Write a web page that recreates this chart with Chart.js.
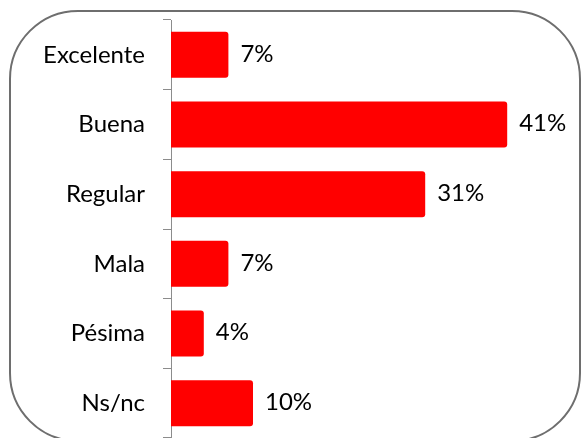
<!DOCTYPE html>
<html>
<head>
<meta charset="utf-8">
<script src="https://cdn.jsdelivr.net/npm/chart.js@4"></script>
<style>
  html, body { margin: 0; padding: 0; background: #fff; overflow: hidden; }
  #wrap { position: relative; width: 581px; height: 438px; }
  #frame { position: absolute; left: 9px; top: 10px; width: 568px; height: 428px; border: 2px solid #6e6e6e; border-radius: 69px; }
  #c { position: absolute; left: 0; top: 0; }
</style>
</head>
<body>
<div id="wrap">
  <div id="frame"></div>
  <canvas id="c" width="581" height="438"></canvas>
</div>
<script>
const categories = ['Excelente', 'Buena', 'Regular', 'Mala', 'Pésima', 'Ns/nc'];
const values = [7, 41, 31, 7, 4, 10];
const valueLabels = ['7%', '41%', '31%', '7%', '4%', '10%'];

Chart.defaults.font.family = 'Lato, "Open Sans", sans-serif';

// draw the percentage next to each bar
const barLabels = {
    id: 'barLabels',
    afterDatasetsDraw(chart) {
        const ctx = chart.ctx;
        const meta = chart.getDatasetMeta(0);
        ctx.save();
        ctx.font = '24px Lato';
        ctx.fillStyle = '#000';
        ctx.textAlign = 'left';
        ctx.textBaseline = 'middle';
        meta.data.forEach((bar, i) => {
            ctx.fillText(valueLabels[i], bar.x + 12, bar.y - 1);
        });
        ctx.restore();
    }
};

new Chart(document.getElementById('c'), {
    type: 'bar',
    data: {
        labels: categories,
        datasets: [{
            data: values,
            backgroundColor: '#ff0000',
            borderRadius: 3,
            borderSkipped: 'start',
            categoryPercentage: 1,
            barPercentage: 0.66
        }]
    },
    options: {
        indexAxis: 'y',
        responsive: false,
        animation: false,
        layout: { padding: 0 },
        plugins: { legend: { display: false }, tooltip: { enabled: false } },
        scales: {
            x: { display: false, min: 0, max: 50 },
            y: {
                afterFit(scale) {
                    scale.width = 171;
                    scale.paddingTop = 20;
                    scale.paddingBottom = 0;
                },
                grid: { drawOnChartArea: false, drawTicks: true, tickLength: 8, color: '#8c8c8c' },
                border: { display: true, color: '#8c8c8c', width: 1 },
                ticks: { color: '#000', padding: 18, font: { size: 24 } }
            }
        }
    },
    plugins: [barLabels]
});
</script>
</body>
</html>
